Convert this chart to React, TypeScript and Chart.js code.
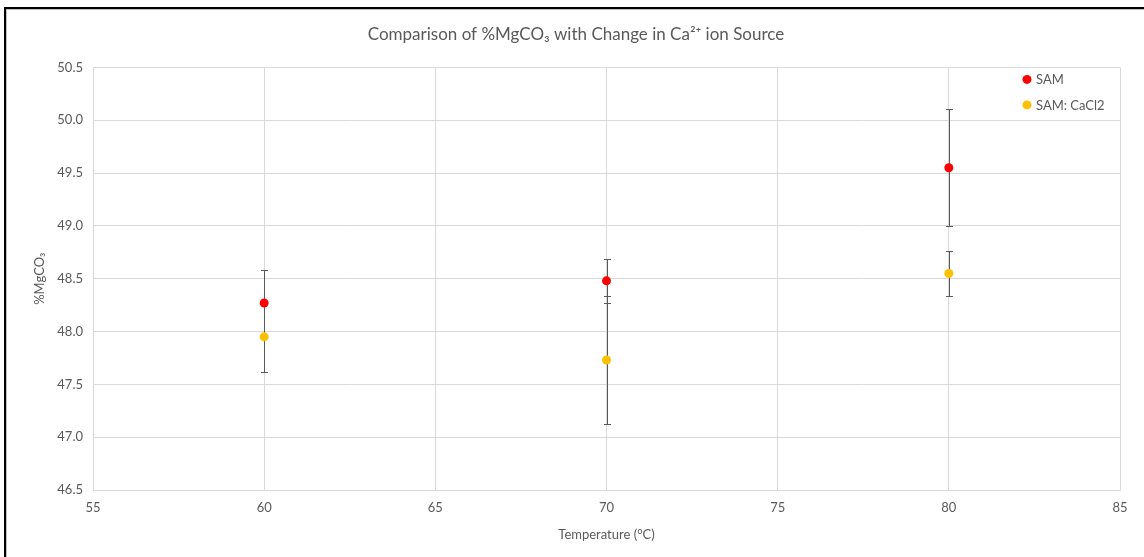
import React, { useEffect, useRef } from "react";
import { Chart, registerables } from "chart.js";

Chart.register(...registerables);

const temperatures = [60, 70, 80];
const samValues = [48.27, 48.48, 49.55];
const samErrors = [0.31, 0.21, 0.555];
const cacl2Values = [47.95, 47.73, 48.55];
const cacl2Errors = [0.33, 0.61, 0.21];
const seriesNames = ["SAM", "SAM: CaCl2"];
const seriesColors = ["#FF0000", "#FFC000"];
const titleText = "Comparison of %MgCO\u2083 with Change in Ca\u00B2\u207A ion Source";
const xTitle = "Temperature (\u00B0C)";
const yTitle = "%MgCO\u2083";

const FONT = "Lato, 'Open Sans', sans-serif";
const TEXT = "#595959";
const GRID = "#d9d9d9";

const errorBarPlugin = {
  id: "errorBars",
  beforeDatasetsDraw(chart: any) {
    const ctx = chart.ctx;
    const xs = chart.scales.x;
    const ys = chart.scales.y;
    ctx.save();
    ctx.strokeStyle = "#595959";
    ctx.lineWidth = 1;
    chart.data.datasets.forEach((ds: any) => {
      const errs: number[] = ds.errors || [];
      ds.data.forEach((p: any, i: number) => {
        const e = errs[i];
        if (e == null) return;
        const x = Math.round(xs.getPixelForValue(p.x)) + 0.5;
        const yTop = Math.round(ys.getPixelForValue(p.y + e)) + 0.5;
        const yBot = Math.round(ys.getPixelForValue(p.y - e)) + 0.5;
        ctx.beginPath();
        ctx.moveTo(x, yTop);
        ctx.lineTo(x, yBot);
        ctx.moveTo(x - 3.5, yTop);
        ctx.lineTo(x + 3.5, yTop);
        ctx.moveTo(x - 3.5, yBot);
        ctx.lineTo(x + 3.5, yBot);
        ctx.stroke();
      });
    });
    ctx.restore();
  },
};

const legendPlugin = {
  id: "insideLegend",
  afterDraw(chart: any) {
    const ctx = chart.ctx;
    const area = chart.chartArea;
    const x0 = area.right - 93;
    const y0 = area.top + 12;
    ctx.save();
    ctx.font = `13px ${FONT}`;
    ctx.textBaseline = "middle";
    ctx.textAlign = "left";
    chart.data.datasets.forEach((ds: any, i: number) => {
      const y = y0 + i * 25.5;
      ctx.beginPath();
      ctx.fillStyle = ds.backgroundColor;
      ctx.arc(x0, y, 4.5, 0, Math.PI * 2);
      ctx.fill();
      ctx.fillStyle = TEXT;
      ctx.fillText(ds.label, x0 + 9, y + 0.5);
    });
    ctx.restore();
  },
};

export default function App() {
  const canvasRef = useRef<HTMLCanvasElement | null>(null);

  useEffect(() => {
    const canvas = canvasRef.current;
    if (!canvas) return;
    const makeData = (vals: number[]) => vals.map((v, i) => ({ x: temperatures[i], y: v }));
    const chart = new Chart(canvas, {
      type: "scatter",
      data: {
        datasets: [
          {
            label: seriesNames[0],
            data: makeData(samValues),
            errors: samErrors,
            backgroundColor: seriesColors[0],
            borderColor: seriesColors[0],
            pointRadius: 4.5,
            pointHoverRadius: 4.5,
            borderWidth: 0,
          } as any,
          {
            label: seriesNames[1],
            data: makeData(cacl2Values),
            errors: cacl2Errors,
            backgroundColor: seriesColors[1],
            borderColor: seriesColors[1],
            pointRadius: 4.5,
            pointHoverRadius: 4.5,
            borderWidth: 0,
          } as any,
        ],
      },
      options: {
        animation: false,
        responsive: false,
        maintainAspectRatio: false,
        events: [],
        layout: { padding: { left: 32, right: 24, top: 0, bottom: 8 } },
        plugins: {
          legend: { display: false },
          tooltip: { enabled: false },
          title: {
            display: true,
            text: titleText,
            color: TEXT,
            font: { family: FONT, size: 17, weight: "normal" },
            padding: { top: 24, bottom: 23 },
          },
        },
        scales: {
          x: {
            type: "linear",
            min: 55,
            max: 85,
            ticks: {
              stepSize: 5,
              color: TEXT,
              font: { family: FONT, size: 13 },
              padding: 10,
            },
            grid: { color: GRID, drawTicks: false },
            border: { color: GRID },
            title: {
              display: true,
              text: xTitle,
              color: TEXT,
              font: { family: FONT, size: 13 },
              padding: { top: 4, bottom: 6 },
            },
            afterFit(scale: any) {
              scale.height = 59;
            },
          },
          y: {
            type: "linear",
            min: 46.5,
            max: 50.5,
            ticks: {
              stepSize: 0.5,
              color: TEXT,
              font: { family: FONT, size: 13 },
              padding: 10,
              callback: (v: any) => Number(v).toFixed(1),
            },
            grid: { color: GRID, drawTicks: false },
            border: { color: GRID },
            title: {
              display: true,
              text: yTitle,
              color: TEXT,
              font: { family: FONT, size: 13 },
              padding: { top: 0, bottom: 4 },
            },
            afterFit(scale: any) {
              scale.width = 61;
            },
          },
        },
      },
      plugins: [errorBarPlugin, legendPlugin],
    } as any);
    return () => chart.destroy();
  }, []);

  return (
    <div
      style={{
        position: "fixed",
        left: 0,
        top: 0,
        width: 1144,
        height: 557,
        background: "#ffffff",
        overflow: "hidden",
      }}
    >
      <div
        style={{
          position: "absolute",
          left: 4,
          top: 7,
          right: 0,
          bottom: 0,
          borderTop: "2px solid #000",
          borderLeft: "2px solid #000",
          boxShadow: "inset 1px 1px 0 #bfbfbf",
        }}
      />
      <canvas
        ref={canvasRef}
        width={1144}
        height={557}
        style={{ position: "absolute", left: 0, top: 0, width: 1144, height: 557 }}
      />
    </div>
  );
}
